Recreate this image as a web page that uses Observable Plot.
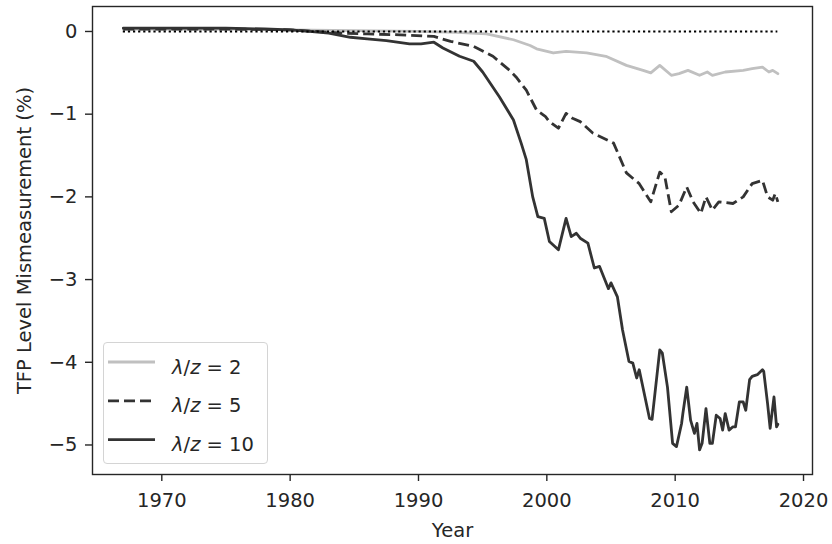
<!DOCTYPE html>
<html>
<head>
<meta charset="utf-8">
<script src="https://cdn.jsdelivr.net/npm/d3@7"></script>
<script src="https://cdn.jsdelivr.net/npm/@observablehq/plot@0.6"></script>
<style>
  html, body { margin: 0; padding: 0; background: #fff; }
  #wrap { position: relative; width: 832px; height: 544px; }
  #legend { position: absolute; left: 103px; top: 342px; width: 165px; height: 122px;
            border: 1px solid #d4d4d4; border-radius: 4px; background: rgba(255,255,255,0.8);
            box-sizing: border-box; }
  #legend svg { position: absolute; left: -1px; top: -1px; overflow: visible; }
</style>
</head>
<body>
<div id="wrap"></div>
<script>
// ---- data ----
const lambdaValues = [2, 5, 10];

const yearsL2 = [1967.0, 1975, 1980, 1985, 1990, 1993, 1995.3, 1997.4, 1998.7, 1999.2, 2000.5, 2001.5,
  2003.1, 2004.6, 2006.2, 2007.5, 2008.1, 2008.8, 2009.7, 2010.3, 2011.0, 2011.9, 2012.5, 2012.9,
  2013.9, 2015.3, 2016.0, 2016.8, 2017.3, 2017.6, 2018.0];
const valuesL2 = [0.03, 0.03, 0.02, 0.01, 0.0, -0.01, -0.03, -0.10, -0.17, -0.21, -0.26, -0.24,
  -0.26, -0.30, -0.41, -0.47, -0.50, -0.41, -0.53, -0.51, -0.47, -0.53, -0.49, -0.53,
  -0.49, -0.47, -0.45, -0.43, -0.49, -0.47, -0.51];

const yearsL5 = [1967.0, 1975, 1980, 1982, 1984, 1986, 1988.6, 1991.2, 1992.5, 1994.3, 1995.8, 1997.1,
  1997.6, 1998.4, 1999.2, 1999.9, 2000.2, 2000.9, 2001.5, 2002.0, 2002.6, 2003.6, 2005.2, 2006.2,
  2007.2, 2008.1, 2008.8, 2009.2, 2009.7, 2010.3, 2010.9, 2011.4, 2012.0, 2012.4, 2012.9, 2013.4,
  2014.5, 2015.3, 2016.0, 2016.8, 2017.2, 2017.6, 2017.8, 2018.0];
const valuesL5 = [0.03, 0.03, 0.02, 0.0, -0.02, -0.03, -0.04, -0.06, -0.12, -0.18, -0.30, -0.47,
  -0.55, -0.71, -0.95, -1.03, -1.09, -1.17, -0.99, -1.05, -1.09, -1.23, -1.35, -1.71,
  -1.84, -2.06, -1.70, -1.76, -2.18, -2.10, -1.88, -2.06, -2.20, -2.00, -2.16, -2.06,
  -2.08, -2.00, -1.84, -1.80, -2.00, -2.04, -1.96, -2.06];

const yearsL10 = [1967.0, 1970, 1975, 1978, 1980, 1981.5, 1983, 1984.7, 1986, 1987.5, 1989.3, 1990.2,
  1991.2, 1991.9, 1993.2, 1994.3, 1995.0, 1996.3, 1997.4, 1998.0, 1998.4, 1998.9, 1999.3, 1999.8,
  2000.2, 2000.9, 2001.5, 2001.9, 2002.3, 2002.6, 2003.2, 2003.7, 2004.1, 2004.8, 2005.0, 2005.5,
  2005.9, 2006.4, 2006.7, 2007.0, 2007.2, 2008.0, 2008.2, 2008.8, 2009.0, 2009.4, 2009.8, 2010.1,
  2010.5, 2010.6, 2010.9, 2011.2, 2011.5, 2011.7, 2011.9, 2012.1, 2012.4, 2012.7, 2012.9, 2013.2,
  2013.5, 2013.7, 2013.9, 2014.2, 2014.5, 2014.7, 2015.0, 2015.3, 2015.5, 2015.8, 2016.0, 2016.4,
  2016.8, 2016.9, 2017.2, 2017.4, 2017.7, 2017.9, 2018.0];
const valuesL10 = [0.04, 0.04, 0.04, 0.03, 0.02, 0.0, -0.02, -0.07, -0.09, -0.11, -0.15, -0.15,
  -0.13, -0.20, -0.30, -0.36, -0.49, -0.79, -1.07, -1.35, -1.55, -2.00, -2.24, -2.26,
  -2.54, -2.64, -2.26, -2.48, -2.44, -2.50, -2.56, -2.86, -2.84, -3.11, -3.04, -3.21,
  -3.61, -3.99, -4.01, -4.19, -4.09, -4.68, -4.69, -3.85, -3.89, -4.30, -4.98, -5.02,
  -4.74, -4.62, -4.30, -4.70, -4.86, -4.74, -5.06, -4.98, -4.56, -4.98, -4.98, -4.64,
  -4.68, -4.82, -4.62, -4.82, -4.78, -4.78, -4.48, -4.48, -4.58, -4.21, -4.17, -4.15,
  -4.09, -4.11, -4.50, -4.80, -4.42, -4.78, -4.75];

const zeroLineSpan = [1967.0, 2018.0];
const xTicks = [1970, 1980, 1990, 2000, 2010, 2020];
const yTicks = [0, -1, -2, -3, -4, -5];
const xLabel = "Year";
const yLabel = "TFP Level Mismeasurement (%)";

// ---- build tables ----
const toRows = (years, values) => years.map((year, i) => ({year, value: values[i]}));
const rows2 = toRows(yearsL2, valuesL2);
const rows5 = toRows(yearsL5, valuesL5);
const rows10 = toRows(yearsL10, valuesL10);

const ink = "#262626";
const fmtY = d => d < 0 ? "\u2212" + Math.abs(d) : String(d);

const chart = Plot.plot({
  width: 832,
  height: 544,
  marginLeft: 92,
  marginRight: 20,
  marginTop: 6,
  marginBottom: 70,
  style: {fontFamily: "DejaVu Sans", fontSize: "19.5px", color: ink, background: "white"},
  x: {domain: [1964.6, 2020.7], label: null},
  y: {domain: [-5.357, 0.302], label: null},
  marks: [
    Plot.line(rows2, {x: "year", y: "value", stroke: "#c0c0c0", strokeWidth: 2.8}),
    Plot.line(rows5, {x: "year", y: "value", stroke: "#333", strokeWidth: 2.8,
                      strokeDasharray: "11,5", strokeLinecap: "butt"}),
    Plot.line(rows10, {x: "year", y: "value", stroke: "#333", strokeWidth: 2.8}),
    Plot.ruleY([0], {x1: zeroLineSpan[0], x2: zeroLineSpan[1], stroke: "#000",
                     strokeWidth: 1.8, strokeDasharray: "2.2,2.9"}),
    Plot.frame({stroke: ink, strokeWidth: 1.4}),
    Plot.axisX({ticks: xTicks, tickFormat: d => String(d), tickSize: 7, tickPadding: 12,
                label: null, stroke: ink, strokeWidth: 1.4, fill: ink}),
    Plot.axisY({ticks: yTicks, tickFormat: fmtY, tickSize: 7, tickPadding: 8,
                label: null, stroke: ink, strokeWidth: 1.4, fill: ink}),
    Plot.text([xLabel], {frameAnchor: "bottom", dy: 56, fill: ink, lineAnchor: "middle",
                         textAnchor: "middle"}),
    Plot.text([yLabel], {frameAnchor: "left", dx: -68, rotate: -90, fill: ink,
                         lineAnchor: "middle", textAnchor: "middle"})
  ]
});

const wrap = document.getElementById("wrap");
wrap.appendChild(chart);

// ---- legend (inside plot area, lower left) ----
const legendStyles = [
  {stroke: "#c0c0c0", dash: null},
  {stroke: "#333", dash: "11,5"},
  {stroke: "#333", dash: null}
];
const NS = "http://www.w3.org/2000/svg";
const legend = document.createElement("div");
legend.id = "legend";
const lsvg = document.createElementNS(NS, "svg");
lsvg.setAttribute("width", 165);
lsvg.setAttribute("height", 122);
lambdaValues.forEach((lam, i) => {
  const yLine = 20 + i * 38.8;
  const line = document.createElementNS(NS, "line");
  line.setAttribute("x1", 5); line.setAttribute("x2", 52);
  line.setAttribute("y1", yLine); line.setAttribute("y2", yLine);
  line.setAttribute("stroke", legendStyles[i].stroke);
  line.setAttribute("stroke-width", 2.8);
  if (legendStyles[i].dash) line.setAttribute("stroke-dasharray", legendStyles[i].dash);
  lsvg.appendChild(line);
  const t = document.createElementNS(NS, "text");
  t.setAttribute("x", 69);
  t.setAttribute("y", yLine + 11.5);
  t.setAttribute("font-family", "DejaVu Sans");
  t.setAttribute("font-size", "19.5px");
  t.setAttribute("fill", ink);
  const parts = [["λ", true], ["/", false], ["z", true], [" = " + lam, false]];
  parts.forEach(([s, it]) => {
    const ts = document.createElementNS(NS, "tspan");
    ts.textContent = s;
    if (it) ts.setAttribute("font-style", "italic");
    t.appendChild(ts);
  });
  lsvg.appendChild(t);
});
legend.appendChild(lsvg);
wrap.appendChild(legend);
</script>
</body>
</html>
